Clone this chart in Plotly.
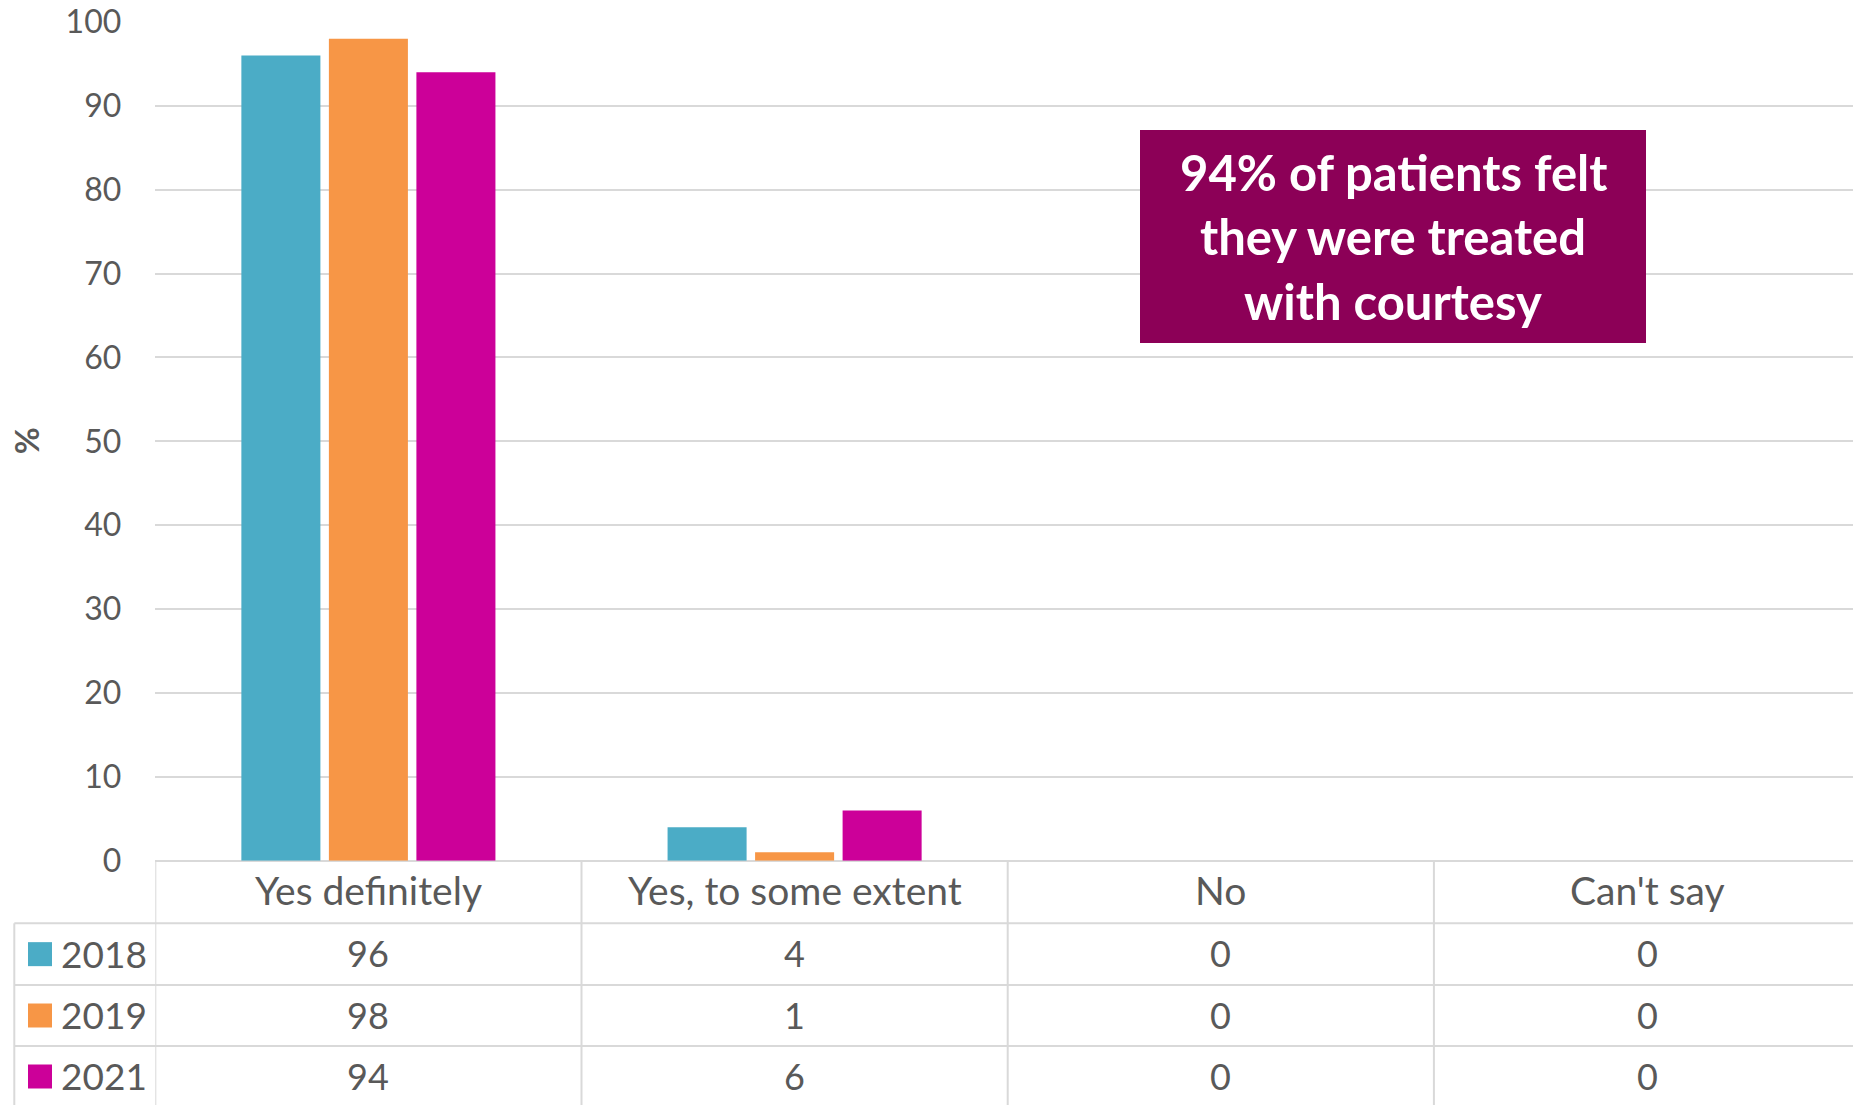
import plotly.graph_objects as go

categories = ["Yes definitely", "Yes, to some extent", "No", "Can't say"]
years = ["2018", "2019", "2021"]
values_2018 = [96, 4, 0, 0]
values_2019 = [98, 1, 0, 0]
values_2021 = [94, 6, 0, 0]
series = [values_2018, values_2019, values_2021]
colors = ["#4BACC6", "#F79646", "#CC0099"]
callout_lines = ["94% of patients felt", "they were treated", "with courtesy"]
y_title = "%"

W, H = 1853, 1105
FONT = "Lato"
GREY = "#595959"
GRID = "#D9D9D9"

# layout geometry (pixels)
x_left = 155.3
cat_w = 426.2
x_table_left = 14.3
y_top = 22.0
y_zero = 860.7
row_edges = [860.7, 923.3, 985.0, 1046.0, 1107.0]


def py(p):
    return (H - p) / H


def px(p):
    return p / W


fig = go.Figure()
for name, vals, col in zip(years, series, colors):
    fig.add_trace(go.Bar(x=list(range(len(categories))), y=vals, name=name,
                         marker=dict(color=col, line=dict(width=0)),
                         showlegend=False, hoverinfo="skip"))

n = len(categories)
x_end = n - 0.5 - ((x_left + n * cat_w) - W) / cat_w

fig.update_layout(
    width=W, height=H,
    margin=dict(l=0, r=0, t=0, b=0, autoexpand=False),
    paper_bgcolor="white", plot_bgcolor="white",
    barmode="group", bargap=0.384, bargroupgap=0.097,
    xaxis=dict(domain=[px(x_left), 1], range=[-0.5, x_end],
               showticklabels=False, showgrid=False, zeroline=False, showline=False,
               automargin=False, fixedrange=True),
    yaxis=dict(domain=[py(y_zero), py(y_top)], range=[0, 100], dtick=10,
               gridcolor=GRID, gridwidth=2, zeroline=True, zerolinecolor=GRID,
               zerolinewidth=2, showline=False, automargin=False,
               tickfont=dict(family=FONT, size=32, color=GREY),
               ticklabelstandoff=33),
    font=dict(family=FONT, color=GREY),
)

# y-axis title
fig.add_annotation(xref="paper", yref="paper", x=px(26), y=py((y_top + y_zero) / 2),
                   text=f"<b>{y_title}</b>", textangle=-90, showarrow=False,
                   xanchor="center", yanchor="middle",
                   font=dict(family=FONT, size=33, color=GREY))

# ---- data table under the chart ----
line = dict(color=GRID, width=2)
for yb in row_edges[1:4]:
    fig.add_shape(type="line", xref="paper", yref="paper",
                  x0=px(x_table_left), x1=1, y0=py(yb), y1=py(yb), line=line)
for i in range(n):
    fig.add_shape(type="line", xref="x", yref="paper",
                  x0=i - 0.5, x1=i - 0.5, y0=py(row_edges[0]), y1=0, line=line)
fig.add_shape(type="line", xref="paper", yref="paper",
              x0=px(x_table_left), x1=px(x_table_left), y0=py(row_edges[1]), y1=0, line=line)

# header row: category names
hc = (row_edges[0] + row_edges[1]) / 2 - 2
for i, cat in enumerate(categories):
    fig.add_annotation(xref="x", yref="paper", x=i, y=py(hc), text=cat,
                       showarrow=False, xanchor="center", yanchor="middle",
                       font=dict(family=FONT, size=39, color=GREY))

# series rows
for r, (name, vals, col) in enumerate(zip(years, series, colors)):
    rc = (row_edges[r + 1] + row_edges[r + 2]) / 2
    fig.add_shape(type="rect", xref="paper", yref="paper",
                  x0=px(28), x1=px(52), y0=py(rc + 12), y1=py(rc - 12),
                  fillcolor=col, line=dict(width=0))
    fig.add_annotation(xref="paper", yref="paper", x=px(149), y=py(rc - 1), text=name,
                       showarrow=False, xanchor="right", yanchor="middle",
                       font=dict(family=FONT, size=37, color=GREY))
    for i, v in enumerate(vals):
        fig.add_annotation(xref="x", yref="paper", x=i, y=py(rc - 1), text=str(v),
                           showarrow=False, xanchor="center", yanchor="middle",
                           font=dict(family=FONT, size=36, color=GREY))

# ---- callout box ----
bx0, bx1, by0, by1 = 1140, 1646, 130, 343
fig.add_shape(type="rect", xref="paper", yref="paper",
              x0=px(bx0), x1=px(bx1), y0=py(by1), y1=py(by0),
              fillcolor="#8C0057", line=dict(width=0), layer="above")
for txt, yc in zip(callout_lines, [172, 236, 301]):
    fig.add_annotation(xref="paper", yref="paper", x=px((bx0 + bx1) / 2),
                       y=py(yc), text=f"<b>{txt}</b>", showarrow=False,
                       xanchor="center", yanchor="middle",
                       font=dict(family=FONT, size=49, color="white"))

fig.write_html("out.html")
